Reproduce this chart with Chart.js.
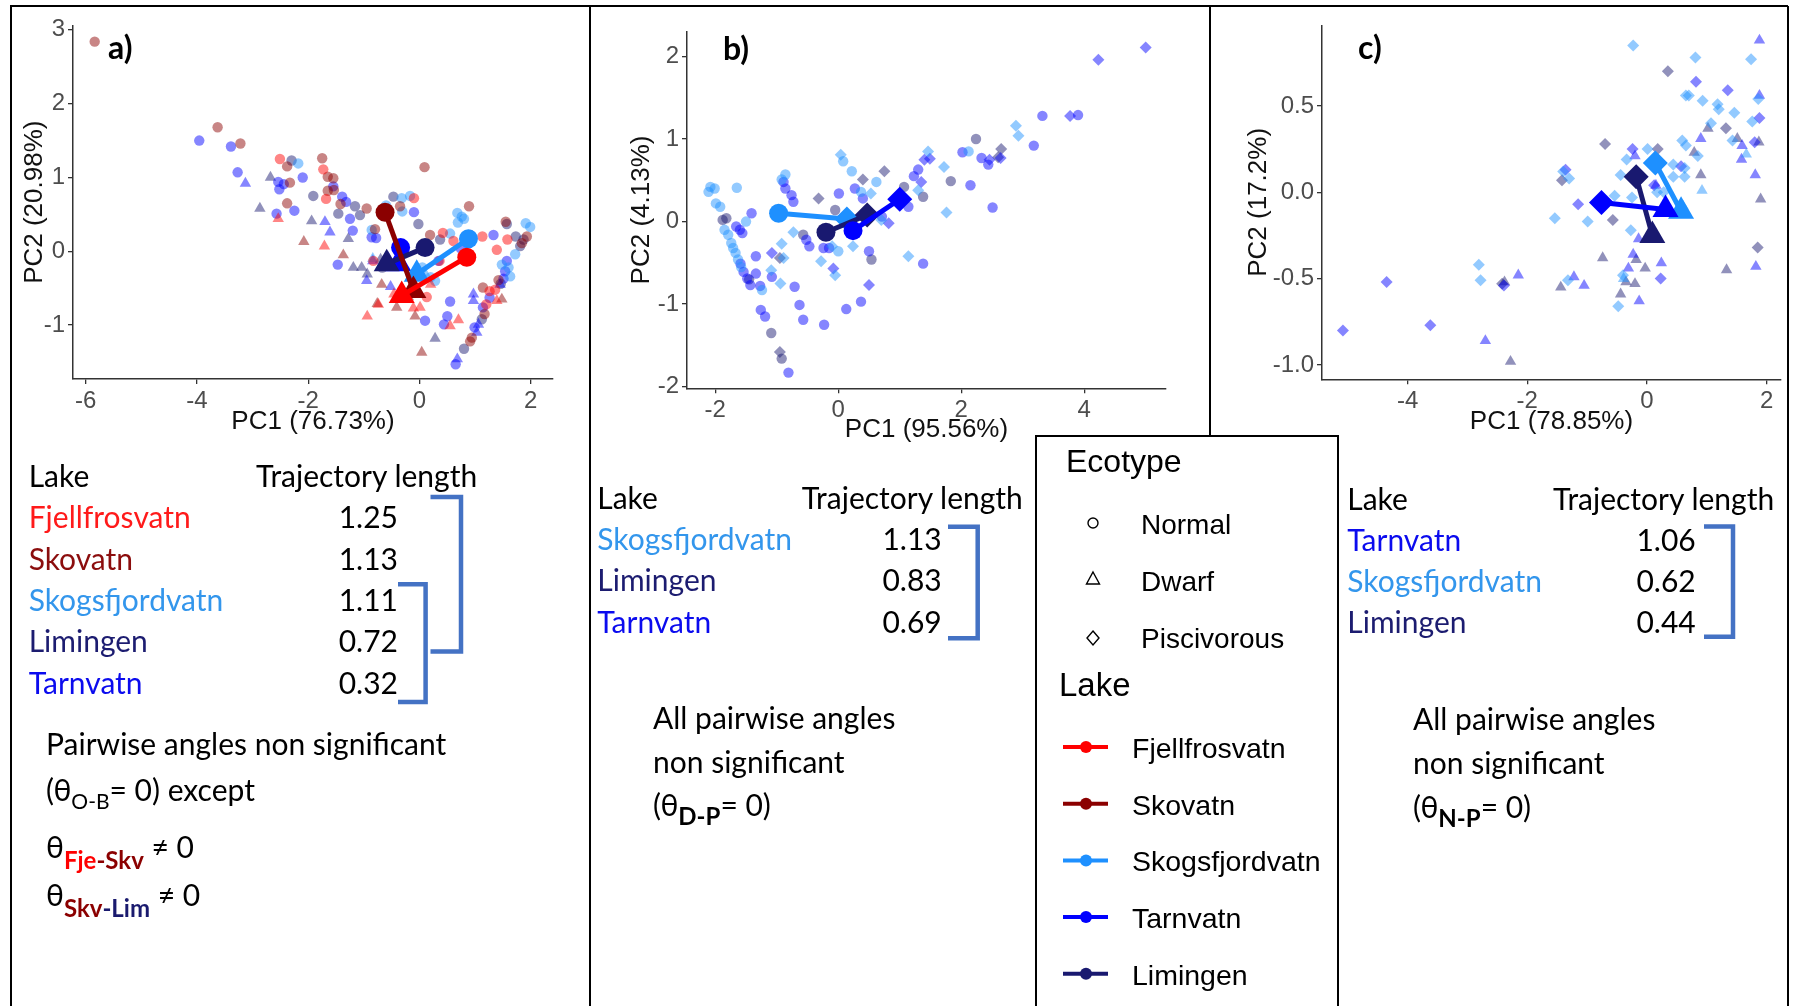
<!DOCTYPE html>
<html>
<head>
<meta charset="utf-8">
<script src="https://cdn.jsdelivr.net/npm/chart.js@4.4.1/dist/chart.umd.min.js"></script>
<style>
  body { margin: 0; background: #fff; }
  #page { position: relative; width: 1793px; height: 1006px; overflow: hidden; background: #fff; }
  canvas { position: absolute; }
  #overlay { position: absolute; left: 0; top: 0; }
  .cal { font-family: Lato, "Open Sans", sans-serif; font-size: 30px; fill: #000; }
  .ari { font-family: "Liberation Sans", Arial, sans-serif; fill: #000; }
</style>
</head>
<body>
<div id="page">
  <canvas id="chartA" width="572" height="432" style="left:12px;top:8px"></canvas>
  <canvas id="chartB" width="600" height="440" style="left:596px;top:8px"></canvas>
  <canvas id="chartC" width="572" height="432" style="left:1214px;top:8px"></canvas>
  <svg id="overlay" width="1793" height="1006" xmlns="http://www.w3.org/2000/svg">
    <g stroke="#000" stroke-width="2" fill="none">
      <path d="M10,6 H1788"/>
      <path d="M11,6 V1006"/>
      <path d="M1788,6 V1006"/>
      <path d="M590,6 V1006"/>
      <path d="M1210,6 V436"/>
      <path d="M1036,1010 V436 H1338 V1010"/>
    </g>
    <g class="cal" style="font-weight:bold;font-size:32px">
      <text x="108" y="59">a)</text>
      <text x="723" y="60">b)</text>
      <text x="1358" y="59">c)</text>
    </g>
    <g id="tables"></g>
    <g class="cal">
      <text x="46" y="755">Pairwise angles non significant</text>
      <text x="46" y="801">(θ<tspan dy="8" style="font-size:21px">O-B</tspan><tspan dy="-8">= 0) except</tspan></text>
      <text x="46" y="858">θ<tspan dy="11" style="font-size:24px;font-weight:bold;fill:#ff0000">Fje</tspan><tspan style="font-size:24px;font-weight:bold;fill:#8b0000">-Skv</tspan><tspan dy="-11"> ≠ 0</tspan></text>
      <text x="46" y="906">θ<tspan dy="11" style="font-size:24px;font-weight:bold;fill:#8b0000">Skv</tspan><tspan style="font-size:24px;font-weight:bold;fill:#1a1a6e">-Lim</tspan><tspan dy="-11"> ≠ 0</tspan></text>

      <text x="653" y="729">All pairwise angles</text>
      <text x="653" y="773">non significant</text>
      <text x="653" y="816">(θ<tspan dy="9" style="font-size:24px;font-weight:bold">D-P</tspan><tspan dy="-9">= 0)</tspan></text>

      <text x="1413" y="730">All pairwise angles</text>
      <text x="1413" y="774">non significant</text>
      <text x="1413" y="818">(θ<tspan dy="9" style="font-size:24px;font-weight:bold">N-P</tspan><tspan dy="-9">= 0)</tspan></text>
    </g>
    <g id="legend">
      <text class="ari" x="1066" y="472" style="font-size:32px">Ecotype</text>
      <g stroke="#000" stroke-width="1.4" fill="none">
        <circle cx="1093" cy="523" r="5"/>
        <polygon points="1093,572 1099.5,584 1086.5,584"/>
        <polygon points="1093,631 1099,638 1093,645 1087,638"/>
      </g>
      <text class="ari" x="1141" y="534" style="font-size:28px">Normal</text>
      <text class="ari" x="1141" y="591" style="font-size:28px">Dwarf</text>
      <text class="ari" x="1141" y="648" style="font-size:28px">Piscivorous</text>
      <text class="ari" x="1059" y="696" style="font-size:33px">Lake</text>
      <g id="lakeKeys"></g>
    </g>
  </svg>
</div>
<script>
// lakes and their colours
const lakeNames = { Fje: 'Fjellfrosvatn', Sko: 'Skovatn', Skg: 'Skogsfjordvatn', Tar: 'Tarnvatn', Lim: 'Limingen' };
const lakeColors = { Fje: '#ff0000', Sko: '#8b0000', Skg: '#1e90ff', Tar: '#0000ff', Lim: '#191970' };
const lakeText = { Fje: '#ff1a1a', Sko: '#8b0d0d', Skg: '#3396ec', Tar: '#0b0bee', Lim: '#1c1c70' };
const legendLakes = ['Fje', 'Sko', 'Skg', 'Tar', 'Lim'];

// trajectory length tables
const tableLakesA = ['Fje', 'Sko', 'Skg', 'Lim', 'Tar'];
const tableLengthsA = ['1.25', '1.13', '1.11', '0.72', '0.32'];
const tableLakesB = ['Skg', 'Lim', 'Tar'];
const tableLengthsB = ['1.13', '0.83', '0.69'];
const tableLakesC = ['Tar', 'Skg', 'Lim'];
const tableLengthsC = ['1.06', '0.62', '0.44'];

// axes
const xTicksA = [-6, -4, -2, 0, 2];
const yTicksA = [-1, 0, 1, 2, 3];
const xTicksB = [-2, 0, 2, 4];
const yTicksB = [-2, -1, 0, 1, 2];
const xTicksC = [-4, -2, 0, 2];
const yTicksC = [-1, -0.5, 0, 0.5];

// a) Normal (circles) vs Dwarf (triangles)
const aFjeNormal = [[-2.51,1.25],[-1.73,1.11],[-1.68,0.71],[-0.10,0.72],[0.42,0.25],[0.61,0.14],[1.39,0.02],[1.58,0.16],[1.36,-0.52],[1.26,-0.54],[1.20,-0.72],[0.13,-0.62],[-0.83,-0.13],[0.36,-0.13],[0.91,0.22],[1.13,0.20]];
const aFjeDwarf = [[-2.54,0.44],[-1.71,0.07],[-0.94,-0.88],[-0.74,-0.72],[-0.11,-0.77],[0.01,-0.76],[0.55,-1.01],[0.70,-0.93],[1.39,-0.67],[-0.46,-0.58],[0.20,-0.45]];
const aSkoNormal = [[-5.84,2.84],[-3.63,1.68],[-3.22,1.46],[-2.38,1.15],[-2.33,0.93],[-2.38,0.65],[-1.75,1.26],[-1.65,1.01],[-1.55,0.99],[-1.54,0.83],[-1.65,0.82],[-1.42,0.64],[-0.95,0.58],[-0.35,0.61],[0.09,1.14],[0.19,0.22],[0.89,0.61],[1.55,0.40],[1.93,0.20],[1.84,0.11],[1.42,-0.39],[1.14,-0.49],[1.17,-0.85],[0.94,-1.17],[0.91,-1.22],[-0.80,0.30]];
const aSkoDwarf = [[-2.08,0.13],[-1.37,-0.05],[-0.76,-0.71],[-0.41,-0.76],[-0.08,-0.88],[0.04,-1.37],[1.48,-0.65],[-0.68,-0.45],[-0.20,-0.62]];
const aSkgNormal = [[-2.18,1.19],[-0.86,0.29],[-0.32,0.72],[-0.17,0.75],[-0.31,0.54],[0.55,0.24],[0.68,0.52],[0.76,0.47],[0.69,0.39],[0.80,0.44],[0.28,-0.40],[0.20,-0.35],[1.91,0.38],[1.99,0.33],[1.72,-0.04],[1.48,-0.18],[1.63,-0.34],[1.60,-0.22],[-0.60,0.62],[0.05,-0.22]];
const aSkgDwarf = [[-0.84,-0.10],[-0.38,-0.09],[0.10,-0.30]];
const aTarNormal = [[-3.96,1.50],[-3.39,1.42],[-3.27,1.07],[-2.54,0.94],[-2.44,0.91],[-2.52,0.84],[-2.10,1.00],[-2.57,0.51],[-2.25,0.55],[-1.55,0.88],[-1.39,0.74],[-1.32,0.67],[-1.25,0.44],[-1.20,0.28],[-1.47,-0.18],[-0.86,0.19],[-0.78,0.18],[-0.10,0.53],[0.34,-0.13],[0.55,-0.68],[0.50,-0.88],[0.44,-0.99],[0.10,-0.94],[1.33,0.22],[1.57,-0.13],[1.54,-0.27],[1.51,-0.37],[1.26,-0.63],[1.14,-0.76],[0.99,-1.03],[0.65,-1.53],[0.74,0.04]];
const aTarDwarf = [[-3.13,0.92],[-1.70,0.40],[-1.61,0.26],[-0.95,-0.40],[-0.84,-0.13],[-0.56,-0.09],[-0.52,-0.48],[0.97,-0.67],[0.97,-0.58],[1.06,-0.99],[1.03,-1.10],[0.68,-1.46],[1.45,-0.45]];
const aLimNormal = [[-2.30,1.23],[-1.91,0.75],[-1.46,0.51],[-1.16,0.61],[-1.07,0.49],[-0.47,0.74],[-0.02,0.37],[0.37,0.16],[1.57,0.37],[1.73,0.20],[1.81,0.07],[1.87,0.16],[1.46,-0.44],[1.12,-0.92],[0.80,-1.32],[-0.67,-0.22]];
const aLimDwarf = [[-2.68,1.00],[-2.87,0.58],[-1.94,0.41],[-1.28,0.17],[-1.19,-0.22],[-1.04,-0.22],[-0.94,-0.31],[-0.70,-0.11],[0.28,-1.18]];
// trajectory centroids: [start, end]
const aTrajFje = [[0.85,-0.08],[-0.32,-0.60]];
const aTrajSko = [[-0.62,0.53],[-0.11,-0.53]];
const aTrajSkg = [[0.88,0.17],[-0.05,-0.31]];
const aTrajTar = [[-0.34,0.05],[-0.38,-0.17]];
const aTrajLim = [[0.10,0.05],[-0.59,-0.17]];

// b) circles vs diamonds
const bSkgCircle = [[-2.11,0.36],[-2.01,0.40],[-2.08,0.42],[-1.99,0.22],[-1.92,0.18],[-1.65,0.41],[-1.85,-0.10],[-1.79,-0.16],[-1.74,-0.26],[-1.71,-0.32],[-1.67,-0.38],[-1.63,-0.46],[-1.58,-0.55],[-1.50,0.00],[-1.24,-0.83],[-0.92,0.51],[-0.86,0.57],[0.08,0.73],[0.22,0.61],[0.37,0.36],[0.62,0.48],[2.12,0.85],[0.00,-0.36]];
const bSkgDiamond = [[-1.09,-0.59],[-0.94,-0.75],[-0.89,-0.44],[-0.92,-0.27],[-0.73,-0.13],[-0.28,-0.48],[-0.05,-0.65],[0.04,0.81],[0.24,-0.30],[0.53,0.34],[0.70,0.02],[1.14,-0.42],[1.46,0.85],[1.72,0.66],[1.76,0.11],[2.89,1.16],[2.93,1.04],[1.30,0.38],[-0.10,-0.30]];
const bTarCircle = [[-1.54,-0.61],[-1.48,-0.69],[-1.43,-0.77],[-1.59,-0.51],[-1.41,0.10],[-1.56,-0.14],[-1.66,-0.06],[-1.60,-0.10],[-1.34,-0.42],[-1.34,-0.63],[-1.27,-0.78],[-1.26,-1.07],[-1.19,-1.15],[-0.81,-1.83],[-1.08,-0.67],[-0.71,-0.79],[-0.63,-1.01],[-0.57,-1.19],[-0.23,-1.25],[-0.89,0.48],[-0.86,0.40],[-0.76,0.32],[-0.73,0.24],[-0.52,-0.22],[-0.47,-0.30],[-0.24,-0.32],[-0.15,-0.32],[0.01,0.34],[0.27,0.40],[0.50,-0.36],[0.37,-0.97],[0.13,-1.06],[0.40,0.28],[0.71,0.06],[1.14,0.18],[1.38,-0.51],[1.23,0.55],[1.30,0.63],[2.02,0.84],[2.15,0.44],[2.33,0.77],[2.44,0.69],[2.51,0.17],[3.18,0.92],[3.32,1.28],[3.90,1.29]];
const bTarDiamond = [[-1.08,-0.38],[-0.08,-0.57],[0.50,-0.77],[0.82,-0.02],[1.35,0.48],[1.40,0.75],[1.49,0.76],[2.46,0.75],[2.64,0.77],[3.77,1.28],[4.23,1.96],[5.00,2.11]];
const bLimCircle = [[-1.82,0.04],[-1.88,0.02],[-1.09,-1.35],[-0.92,-1.66],[-0.57,-0.16],[-0.05,0.14],[0.54,-0.46],[1.07,0.42],[1.38,0.30],[1.83,0.49],[2.24,1.00],[-1.45,-0.70]];
const bLimDiamond = [[-0.95,-1.58],[-0.95,-0.44],[-0.32,0.28],[0.40,0.51],[0.75,0.61],[2.65,0.88],[2.60,0.78]];
const bTrajSkg = [[-0.97,0.10],[0.14,0.03]];
const bTrajLim = [[-0.20,-0.13],[0.47,0.08]];
const bTrajTar = [[0.24,-0.11],[1.00,0.27]];

// c) diamonds vs triangles
const cSkgDiamond = [[-0.23,0.85],[0.81,0.78],[1.74,0.77],[0.65,0.56],[0.70,0.56],[0.93,0.53],[1.18,0.51],[1.20,0.48],[1.46,0.46],[1.86,0.54],[1.76,0.41],[1.07,0.40],[0.59,0.30],[0.65,0.27],[0.85,0.21],[1.43,0.30],[0.44,0.16],[0.63,0.14],[0.44,0.09],[0.63,0.09],[0.01,0.25],[-0.34,0.19],[-0.44,0.10],[0.17,0.00],[0.28,0.00],[-0.25,-0.03],[-0.54,-0.02],[-0.99,-0.17],[-1.54,-0.15],[-1.30,0.08],[-1.40,0.12],[-0.27,-0.22],[-0.48,-0.66],[-1.32,-0.51],[-2.81,-0.42],[-2.78,-0.51],[-0.40,-0.48]];
const cSkgTriangle = [[0.92,0.01],[1.66,0.22],[-0.39,-0.50],[0.60,-0.08]];
const cTarDiamond = [[0.82,0.64],[1.35,0.59],[1.88,0.43],[1.80,0.29],[0.57,0.15],[-0.24,0.25],[-1.15,-0.07],[-1.36,0.13],[0.23,-0.50],[-2.39,-0.54],[-4.35,-0.52],[-3.62,-0.77],[-5.08,-0.80],[0.12,0.04]];
const cTarTriangle = [[1.88,0.88],[1.88,0.56],[0.90,0.31],[1.59,0.27],[1.58,0.19],[1.81,0.10],[1.82,-0.43],[0.15,0.04],[-0.14,-0.27],[-0.23,-0.36],[0.24,-0.41],[-0.31,-0.44],[-0.13,-0.63],[-1.22,-0.49],[-1.05,-0.54],[-2.15,-0.48],[-2.70,-0.86],[-0.20,0.21]];
const cLimDiamond = [[0.35,0.70],[1.32,0.37],[0.18,0.25],[-0.70,0.28],[-0.57,-0.16],[-1.42,0.07],[1.85,-0.32],[-2.42,-0.53]];
const cLimTriangle = [[1.02,0.37],[0.79,0.23],[1.51,0.31],[1.87,0.29],[0.90,0.10],[1.90,-0.04],[1.33,-0.45],[-0.74,-0.38],[-0.18,-0.39],[-0.03,-0.44],[-0.35,-0.52],[-0.20,-0.53],[-0.44,-0.59],[-1.44,-0.55],[-2.38,-0.52],[-2.28,-0.98]];
const cTrajSkg = [[0.14,0.17],[0.57,-0.11]];
const cTrajLim = [[-0.18,0.09],[0.09,-0.25]];
const cTrajTar = [[-0.76,-0.06],[0.31,-0.10]];

const shapeSize = { circle: 5.2, triangle: 6.6, rectRot: 6 };
const bigSize = { circle: 9.5, triangle: 15, rectRot: 12.5 };
const axisFont = 'Liberation Sans, Arial, sans-serif';

function fade(hex, a) {
  const n = parseInt(hex.slice(1), 16);
  return 'rgba(' + (n >> 16) + ',' + ((n >> 8) & 255) + ',' + (n & 255) + ',' + a + ')';
}
function toXY(arr) { return arr.map(p => ({ x: p[0], y: p[1] })); }

function cloud(points, lake, style) {
  return {
    data: toXY(points),
    showLine: false,
    pointStyle: style,
    pointRadius: shapeSize[style],
    pointBackgroundColor: fade(lakeColors[lake], 0.48),
    pointBorderWidth: 0,
    order: 1
  };
}
function trajectory(pair, lake, startStyle, endStyle) {
  return {
    data: toXY(pair),
    showLine: true,
    borderColor: lakeColors[lake],
    borderWidth: 5,
    pointStyle: [startStyle, endStyle],
    pointRadius: [bigSize[startStyle], bigSize[endStyle]],
    pointBackgroundColor: lakeColors[lake],
    pointBorderWidth: 0,
    order: 0
  };
}

function axis(pos, min, max, ticks, fmt, title, size, titlePad) {
  return {
    type: 'linear',
    position: pos,
    min: min,
    max: max,
    afterBuildTicks: s => { s.ticks = ticks.map(v => ({ value: v })); },
    afterFit: s => { if (pos === 'bottom') s.height = size; else s.width = size; },
    grid: { drawOnChartArea: false, drawTicks: true, tickLength: 5, color: '#333', lineWidth: 1.3 },
    border: { display: true, color: '#333', width: 1.5 },
    ticks: {
      color: '#4d4d4d', padding: 3, autoSkip: false, maxRotation: 0,
      font: { family: axisFont, size: 24 },
      callback: v => fmt(v)
    },
    title: { display: true, text: title, color: '#111', font: { family: axisFont, size: 26 }, padding: titlePad }
  };
}

function makeChart(id, datasets, sx, sy, pad) {
  return new Chart(document.getElementById(id), {
    type: 'scatter',
    data: { datasets: datasets },
    options: {
      responsive: false,
      animation: false,
      events: [],
      layout: { padding: pad, autoPadding: false },
      plugins: { legend: { display: false }, tooltip: { enabled: false } },
      scales: { x: sx, y: sy }
    }
  });
}

const plain = v => String(v);
const oneDec = v => v.toFixed(1);

makeChart('chartA', [
  trajectory(aTrajFje, 'Fje', 'circle', 'triangle'),
  trajectory(aTrajSko, 'Sko', 'circle', 'triangle'),
  trajectory(aTrajSkg, 'Skg', 'circle', 'triangle'),
  trajectory(aTrajLim, 'Lim', 'circle', 'triangle'),
  trajectory(aTrajTar, 'Tar', 'circle', 'triangle'),
  cloud(aFjeNormal, 'Fje', 'circle'), cloud(aFjeDwarf, 'Fje', 'triangle'),
  cloud(aSkoNormal, 'Sko', 'circle'), cloud(aSkoDwarf, 'Sko', 'triangle'),
  cloud(aSkgNormal, 'Skg', 'circle'), cloud(aSkgDwarf, 'Skg', 'triangle'),
  cloud(aTarNormal, 'Tar', 'circle'), cloud(aTarDwarf, 'Tar', 'triangle'),
  cloud(aLimNormal, 'Lim', 'circle'), cloud(aLimDwarf, 'Lim', 'triangle')
],
  axis('bottom', -6.23, 2.40, xTicksA, plain, 'PC1 (76.73%)', 61, { top: 0, bottom: 2.7 }),
  axis('left', -1.73, 3.06, yTicksA, plain, 'PC2 (20.98%)', 61, { top: 6.8, bottom: 0 }),
  { left: 0, top: 16, right: 31, bottom: 0 });

makeChart('chartB', [
  trajectory(bTrajTar, 'Tar', 'circle', 'rectRot'),
  trajectory(bTrajLim, 'Lim', 'circle', 'rectRot'),
  trajectory(bTrajSkg, 'Skg', 'circle', 'rectRot'),
  cloud(bSkgCircle, 'Skg', 'circle'), cloud(bSkgDiamond, 'Skg', 'rectRot'),
  cloud(bTarCircle, 'Tar', 'circle'), cloud(bTarDiamond, 'Tar', 'rectRot'),
  cloud(bLimCircle, 'Lim', 'circle'), cloud(bLimDiamond, 'Lim', 'rectRot')
],
  axis('bottom', -2.46, 5.33, xTicksB, plain, 'PC1 (95.56%)', 59.7, { top: 0, bottom: 2.4 }),
  axis('left', -2.02, 2.30, yTicksB, plain, 'PC2 (4.13%)', 91, { top: 29.8, bottom: 0 }),
  { left: 0, top: 23.7, right: 30, bottom: 0 });

makeChart('chartC', [
  trajectory(cTrajTar, 'Tar', 'rectRot', 'triangle'),
  trajectory(cTrajSkg, 'Skg', 'rectRot', 'triangle'),
  trajectory(cTrajLim, 'Lim', 'rectRot', 'triangle'),
  cloud(cSkgDiamond, 'Skg', 'rectRot'), cloud(cSkgTriangle, 'Skg', 'triangle'),
  cloud(cTarDiamond, 'Tar', 'rectRot'), cloud(cTarTriangle, 'Tar', 'triangle'),
  cloud(cLimDiamond, 'Lim', 'rectRot'), cloud(cLimTriangle, 'Lim', 'triangle')
],
  axis('bottom', -5.43, 2.24, xTicksC, plain, 'PC1 (78.85%)', 60.7, { top: 0, bottom: 2.7 }),
  axis('left', -1.083, 0.966, yTicksC, oneDec, 'PC2 (17.2%)', 108, { top: 29, bottom: 0 }),
  { left: 0, top: 15.3, right: 5, bottom: 0 });

// tables and lake key in the svg overlay
const NS = 'http://www.w3.org/2000/svg';
function svgEl(parent, tag, attrs, content) {
  const el = document.createElementNS(NS, tag);
  for (const k in attrs) el.setAttribute(k, attrs[k]);
  if (content !== undefined) el.textContent = content;
  parent.appendChild(el);
  return el;
}

const tables = document.getElementById('tables');
function drawTable(lakes, lengths, xName, xHead, xNum, yHead, gap, brackets) {
  svgEl(tables, 'text', { x: xName, y: yHead, class: 'cal' }, 'Lake');
  svgEl(tables, 'text', { x: xHead, y: yHead, class: 'cal' }, 'Trajectory length');
  lakes.forEach((lk, i) => {
    const y = yHead + gap * (i + 1);
    svgEl(tables, 'text', { x: xName, y: y, class: 'cal', style: 'fill:' + lakeText[lk] }, lakeNames[lk]);
    svgEl(tables, 'text', { x: xNum, y: y, class: 'cal', 'text-anchor': 'end' }, lengths[i]);
  });
  brackets.forEach(b => {
    svgEl(tables, 'path', {
      d: 'M' + b[0] + ',' + b[2] + ' H' + b[1] + ' V' + b[3] + ' H' + b[0],
      stroke: '#4472c4', 'stroke-width': 4.5, fill: 'none'
    });
  });
}
drawTable(tableLakesA, tableLengthsA, 28.7, 256, 398, 487, 41.3, [[430.5, 461, 497, 651.5], [398, 425.6, 584.3, 701.9]]);
drawTable(tableLakesB, tableLengthsB, 597.3, 801.7, 941.7, 509, 41.2, [[948, 977.7, 526.7, 638.3]]);
drawTable(tableLakesC, tableLengthsC, 1347.3, 1553, 1695.7, 509.7, 41.2, [[1704, 1733, 526.5, 636.7]]);

const keys = document.getElementById('lakeKeys');
legendLakes.forEach((lk, i) => {
  const y = 747 + 56.7 * i;
  svgEl(keys, 'line', { x1: 1063, x2: 1108, y1: y, y2: y, stroke: lakeColors[lk], 'stroke-width': 4 });
  svgEl(keys, 'circle', { cx: 1086, cy: y, r: 6, fill: lakeColors[lk] });
  svgEl(keys, 'text', { x: 1132, y: y + 11, class: 'ari', style: 'font-size:28.5px' }, lakeNames[lk]);
});
</script>
</body>
</html>
